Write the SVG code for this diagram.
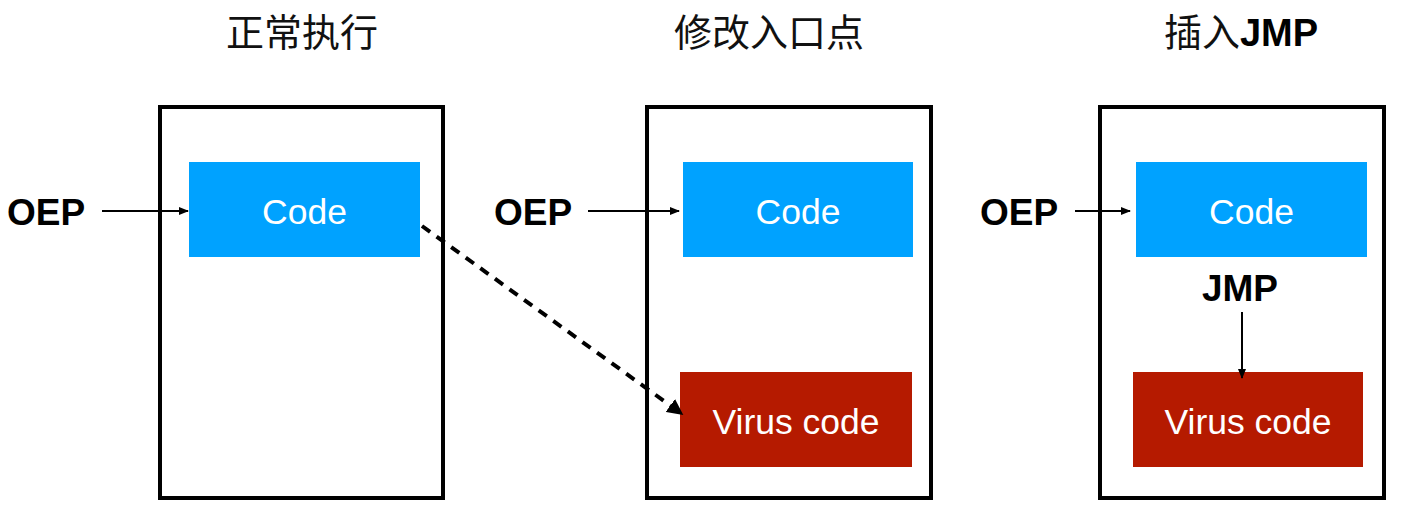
<svg xmlns="http://www.w3.org/2000/svg" width="1404" height="510" viewBox="0 0 1404 510">
  <style>
    .frame { fill: #fff; stroke: #000; stroke-width: 4; }
    .code { fill: #00A2FF; }
    .virus { fill: #B51A00; }
    .box-label { font-family: "Liberation Sans", Arial, sans-serif; font-size: 35.5px; fill: #fff; text-anchor: middle; }
    .title { font-family: "Liberation Sans", "Noto Sans CJK SC", sans-serif; font-size: 38px; fill: #111; text-anchor: middle; }
    .tag { font-family: "Liberation Sans", Arial, sans-serif; font-size: 37px; font-weight: bold; fill: #000; }
    .link { stroke: #000; stroke-width: 2; fill: none; }
    .dash { stroke: #000; stroke-width: 4; stroke-dasharray: 10 8; fill: none; }
  </style>
  <defs>
    <marker id="head" viewBox="0 0 10 10" refX="9" refY="5" markerWidth="5" markerHeight="5" orient="auto" markerUnits="strokeWidth">
      <path d="M0,1 L10,5 L0,9 Z" fill="#000"/>
    </marker>
    <marker id="head-big" viewBox="0 0 10 10" refX="9" refY="5" markerWidth="4" markerHeight="4" orient="auto" markerUnits="strokeWidth">
      <path d="M0,0 L10,5 L0,10 Z" fill="#000"/>
    </marker>
  </defs>

  <!-- section headings -->
  <text class="title" x="302" y="46">正常执行</text>
  <text class="title" x="769" y="46">修改入口点</text>
  <text class="title" x="1241" y="46"><tspan>插入</tspan><tspan font-weight="bold" fill="#000">JMP</tspan></text>

  <!-- panel 1: normal execution -->
  <g id="panel-normal">
    <rect class="frame" x="160" y="107" width="283" height="391"/>
  </g>
  <g id="code-normal">
    <rect class="code" x="189" y="162" width="231" height="95"/>
    <text class="box-label" x="304.5" y="224">Code</text>
  </g>
  <g id="oep-normal">
    <text class="tag" x="7" y="225">OEP</text>
  </g>

  <!-- panel 2: modified entry point -->
  <g id="panel-entry">
    <rect class="frame" x="647" y="107" width="284" height="391"/>
  </g>
  <g id="code-entry">
    <rect class="code" x="683" y="162" width="230" height="95"/>
    <text class="box-label" x="798" y="224">Code</text>
  </g>
  <g id="virus-entry">
    <rect class="virus" x="680" y="372" width="232" height="95"/>
    <text class="box-label" x="796" y="434">Virus code</text>
  </g>
  <g id="oep-entry">
    <text class="tag" x="494" y="225">OEP</text>
  </g>

  <!-- panel 3: inserted JMP -->
  <g id="panel-jmp">
    <rect class="frame" x="1100" y="107" width="284" height="391"/>
  </g>
  <g id="code-jmp">
    <rect class="code" x="1136" y="162" width="231" height="95"/>
    <text class="box-label" x="1251.5" y="224">Code</text>
  </g>
  <g id="jmp-label">
    <text class="tag" x="1240" y="301" text-anchor="middle" font-size="38">JMP</text>
  </g>
  <g id="virus-jmp">
    <rect class="virus" x="1133" y="372" width="230" height="95"/>
    <text class="box-label" x="1248" y="434">Virus code</text>
  </g>
  <g id="oep-jmp">
    <text class="tag" x="980" y="225">OEP</text>
  </g>

  <!-- connectors -->
  <g id="connectors">
    <line class="link" x1="102" y1="211" x2="188" y2="211" marker-end="url(#head)"/>
    <line class="link" x1="588" y1="211" x2="679" y2="211" marker-end="url(#head)"/>
    <line class="link" x1="1075" y1="211" x2="1130" y2="211" marker-end="url(#head)"/>
    <line class="link" x1="1242" y1="312" x2="1242" y2="378" marker-end="url(#head)"/>
    <line class="dash" x1="422" y1="226" x2="682" y2="414" marker-end="url(#head-big)"/>
  </g>
</svg>
